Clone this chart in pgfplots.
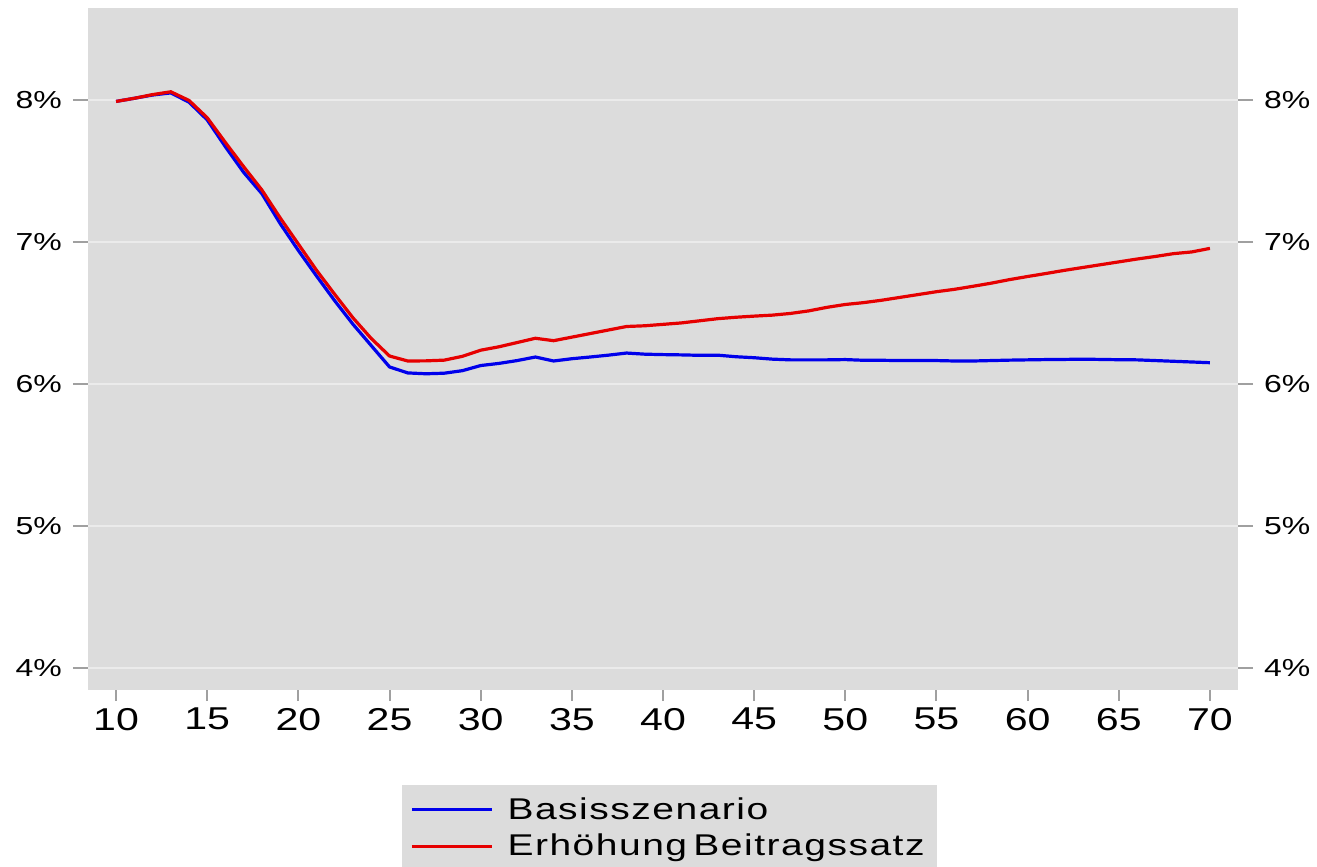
\documentclass[border=0pt]{standalone}
\usepackage{fontspec}
\setmainfont{Liberation Sans}[FakeStretch=1.3]
\newfontfamily\legfont{Liberation Sans}[FakeStretch=1.3,LetterSpace=5]
\usepackage{pgfplots}
\usepackage{pgfplotstable}
\pgfplotsset{compat=1.18}

\definecolor{bggray}{HTML}{DCDCDC}
\definecolor{gridc}{HTML}{EBEBEB}
\definecolor{tickc}{HTML}{A0A0A0}
\definecolor{lblue}{RGB}{0,0,235}
\definecolor{lred}{RGB}{230,0,0}

\pgfplotstableread{
x  base   erh
10 7.990  7.990
11 8.012  8.012
12 8.035  8.038
13 8.050  8.058
14 7.985  7.997
15 7.860  7.875
16 7.670  7.700
17 7.490  7.530
18 7.340  7.366
19 7.130  7.170
20 6.940  6.985
21 6.760  6.800
22 6.585  6.630
23 6.420  6.465
24 6.270  6.320
25 6.120  6.197
26 6.078  6.162
27 6.072  6.163
28 6.076  6.168
29 6.094  6.195
30 6.130  6.238
31 6.145  6.262
32 6.165  6.292
33 6.190  6.322
34 6.162  6.305
35 6.178  6.330
36 6.190  6.355
37 6.203  6.380
38 6.218  6.405
39 6.210  6.410
40 6.207  6.420
41 6.205  6.430
42 6.202  6.445
43 6.203  6.460
44 6.192  6.470
45 6.185  6.478
46 6.175  6.485
47 6.170  6.497
48 6.170  6.515
49 6.170  6.540
50 6.172  6.560
51 6.167  6.573
52 6.167  6.590
53 6.165  6.610
54 6.166  6.630
55 6.165  6.650
56 6.162  6.667
57 6.162  6.688
58 6.165  6.710
59 6.168  6.735
60 6.170  6.757
61 6.172  6.778
62 6.173  6.800
63 6.175  6.820
64 6.173  6.840
65 6.171  6.860
66 6.170  6.880
67 6.165  6.898
68 6.160  6.918
69 6.155  6.930
70 6.150  6.955
}\data

\begin{document}
\begin{tikzpicture}
\pgfplotsset{
  common/.style={
    scale only axis, width=575pt, height=341pt,
    xmin=8.46, xmax=71.54, ymin=3.845, ymax=8.648,
    axis line style={draw=none},
    tick align=outside,
    /pgf/number format/assume math mode=true,
    ytick={4,5,6,7,8},
  },
  ylab/.style={
    yticklabel={\pgfmathprintnumber{\tick}\%},
    major tick length=7.5pt,
    xtick=\empty,
  },
}

% main axis: background, grid, data, x ticks, legend
\begin{axis}[common,
    axis background/.style={fill=bggray},
    xtick={10,15,...,70},
    xtick pos=bottom,
    major tick length=5.5pt,
    xtick style={draw=tickc, line width=1pt},
    xticklabel style={font=\fontsize{15.8}{18}\selectfont},
    ytick style={draw=none},
    yticklabels={},
    ymajorgrids,
    grid style={draw=gridc, line width=1.2pt},
    legend cell align=left,
    legend style={
        at={(0.273,-0.1393)}, anchor=north west,
        fill=bggray, draw=none,
        font={\fontsize{15}{17}\legfont},
        inner xsep=4pt, inner ysep=4pt,
        row sep=2pt,
        /tikz/every odd column/.append style={column sep=5pt},
    },
    legend image code/.code={\draw[#1] (2pt,0pt) -- (42pt,0pt);},
]
\addplot[lblue, line width=1.6pt] table[x=x, y=base] {\data};
\addlegendentry{Basisszenario}
\addplot[lred, line width=1.6pt] table[x=x, y=erh] {\data};
\addlegendentry{Erhöhung\hspace{-3pt} Beitragssatz}
\end{axis}

% left y labels, ticks on both sides
\begin{axis}[common, ylab,
    ytick pos=both, yticklabel pos=left,
    ytick style={draw=tickc, line width=1pt},
    yticklabel style={font=\fontsize{12.3}{14}\selectfont, xshift=-2pt},
]
\end{axis}

% right y labels
\begin{axis}[common, ylab,
    ytick pos=right, yticklabel pos=right,
    ytick style={draw=none},
    yticklabel style={font=\fontsize{12.3}{14}\selectfont, xshift=2pt},
]
\end{axis}

\pgfresetboundingbox
\path[use as bounding box] (-44pt,-88.5pt) rectangle (614.5pt,345pt);
\end{tikzpicture}
\end{document}
